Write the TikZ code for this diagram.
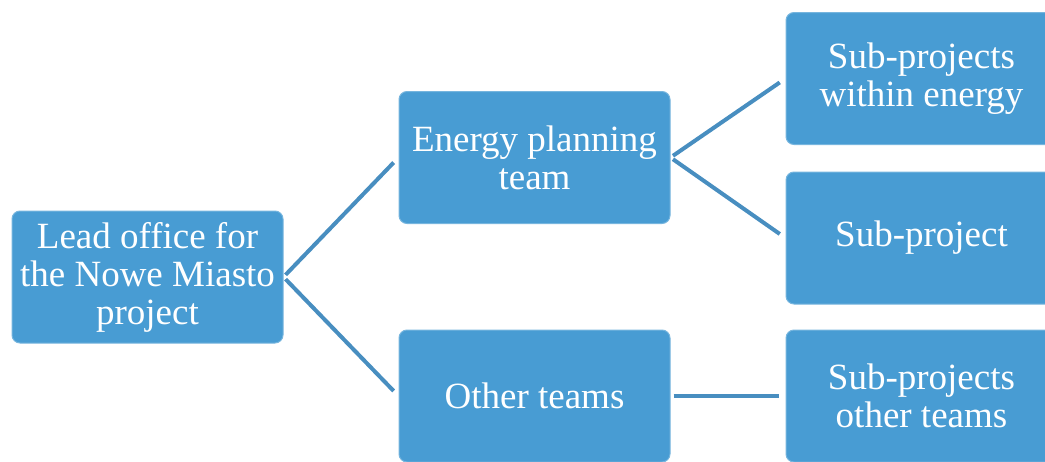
\documentclass[tikz,border=0pt]{standalone}
\usepackage{fontspec}
\setmainfont{Liberation Serif}
\definecolor{boxblue}{RGB}{72,156,211}
\definecolor{lineblue}{RGB}{72,142,192}

\begin{document}
\begin{tikzpicture}[x=1pt,y=-1pt,
    unit/.style ={rectangle, rounded corners=8pt, fill=boxblue, draw=boxblue!75!white, line width=1pt,
                  minimum width=271pt, minimum height=132pt, inner sep=0pt, align=center,
                  text=white, font=\fontsize{37}{38}\selectfont},
    link/.style ={draw=lineblue, line width=4pt, shorten <=3pt, shorten >=7pt}]
   \clip (0,0) rectangle (1045,461);
   \node[unit] (L) at (147.5,277) {Lead office for\\the Nowe Miasto\\project};
   \node[unit] (E) at (534.5,157.5) {Energy planning\\team};
   \node[unit] (O) at (534.5,396) {Other teams};
   \node[unit] (S1) at (921.5,78.5) {Sub-projects\\within energy};
   \node[unit] (S2) at (921.5,238) {Sub-project};
   \node[unit] (S3) at (921.5,396) {Sub-projects\\other teams};

   \draw[link] (L.east) to (E.west);
   \draw[link] (L.east) to (O.west);
   \draw[link] (E.east) to (S1.west);
   \draw[link] (E.east) to (S2.west);
   \draw[link] (O.east) to (S3.west);
 \end{tikzpicture}
\end{document}
